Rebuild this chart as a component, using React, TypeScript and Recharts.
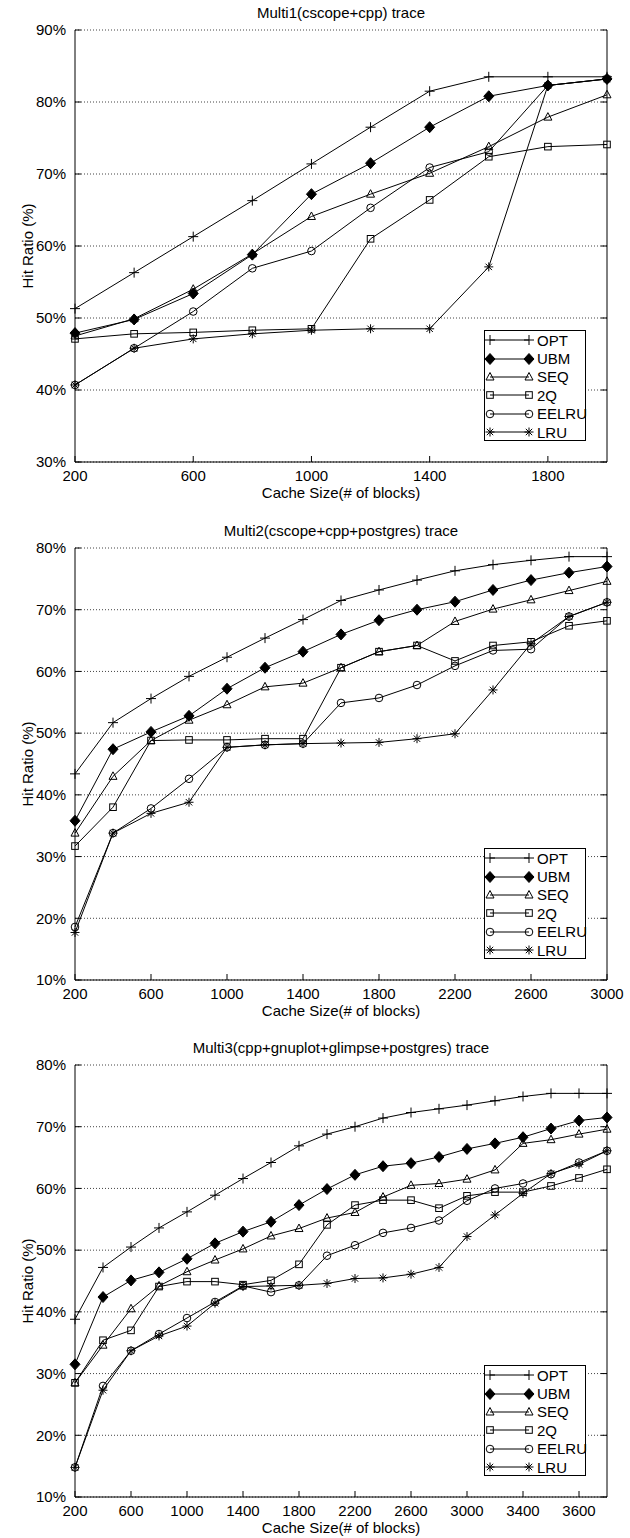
import React from 'react';
import { LineChart, Line, XAxis, YAxis, CartesianGrid, Legend } from 'recharts';

const FONT = "'Liberation Sans', Arial, Helvetica, sans-serif";
const W = 630;
const CH = 517;
const PLOT_TOP = 30;
const PLOT_BOTTOM = 462;

const seriesNames = ['OPT', 'UBM', 'SEQ', '2Q', 'EELRU', 'LRU'];
const markerKinds = ['plus', 'diamond', 'triangle', 'square', 'circle', 'star'];

// Multi1
const sizes1 = [200, 400, 600, 800, 1000, 1200, 1400, 1600, 1800, 2000];
const opt1 = [51.3, 56.3, 61.3, 66.3, 71.4, 76.5, 81.5, 83.5, 83.5, 83.5];
const ubm1 = [47.9, 49.8, 53.4, 58.8, 67.2, 71.5, 76.5, 80.8, 82.3, 83.2];
const seq1 = [47.5, 49.9, 54.0, 58.9, 64.1, 67.2, 70.1, 73.8, 77.9, 81.0];
const q2_1 = [47.1, 47.8, 48.0, 48.3, 48.5, 61.0, 66.4, 72.4, 73.8, 74.1];
const eelru1 = [40.7, 45.8, 50.9, 56.9, 59.3, 65.3, 70.9, 73.1, 82.3, 83.2];
const lru1 = [40.7, 45.8, 47.1, 47.8, 48.3, 48.5, 48.5, 57.1, 82.3, 83.2];

// Multi2
const sizes2 = [200, 400, 600, 800, 1000, 1200, 1400, 1600, 1800, 2000, 2200, 2400, 2600, 2800, 3000];
const opt2 = [43.4, 51.7, 55.6, 59.2, 62.3, 65.4, 68.4, 71.5, 73.2, 74.8, 76.3, 77.3, 78.0, 78.6, 78.6];
const ubm2 = [35.8, 47.4, 50.2, 52.8, 57.2, 60.6, 63.2, 66.0, 68.3, 70.0, 71.3, 73.2, 74.8, 76.0, 77.0];
const seq2 = [33.8, 43.0, 48.8, 52.1, 54.6, 57.5, 58.1, 60.6, 63.2, 64.2, 68.1, 70.1, 71.6, 73.1, 74.6];
const q2_2 = [31.7, 38.0, 48.8, 48.9, 48.9, 49.1, 49.1, 60.6, 63.2, 64.2, 61.7, 64.2, 64.8, 67.4, 68.2];
const eelru2 = [18.6, 33.8, 37.8, 42.6, 47.7, 48.1, 48.3, 54.9, 55.7, 57.8, 60.9, 63.4, 63.6, 68.9, 71.2];
const lru2 = [17.7, 33.8, 37.0, 38.8, 47.7, 48.1, 48.3, 48.4, 48.5, 49.1, 49.9, 57.0, 64.5, 68.9, 71.2];

// Multi3
const sizes3 = [200, 400, 600, 800, 1000, 1200, 1400, 1600, 1800, 2000, 2200, 2400, 2600, 2800, 3000, 3200, 3400, 3500, 3600, 3700];
const opt3 = [38.8, 47.2, 50.5, 53.6, 56.2, 58.9, 61.6, 64.2, 66.9, 68.8, 70.0, 71.4, 72.3, 72.9, 73.5, 74.2, 74.9, 75.4, 75.4, 75.4];
const ubm3 = [31.5, 42.4, 45.1, 46.4, 48.6, 51.1, 53.0, 54.6, 57.3, 59.9, 62.2, 63.6, 64.1, 65.1, 66.4, 67.3, 68.3, 69.7, 71.0, 71.5];
const seq3 = [28.5, 34.6, 40.5, 44.2, 46.5, 48.4, 50.2, 52.3, 53.5, 55.2, 56.1, 58.6, 60.5, 60.8, 61.5, 63.0, 67.3, 67.9, 68.8, 69.6];
const q2_3 = [28.5, 35.4, 37.0, 44.1, 44.9, 44.9, 44.4, 45.1, 47.7, 54.1, 57.3, 58.1, 58.1, 56.8, 58.8, 59.4, 59.4, 60.4, 61.7, 63.1];
const eelru3 = [14.8, 28.0, 33.7, 36.4, 39.0, 41.6, 44.2, 43.2, 44.3, 49.1, 50.8, 52.8, 53.6, 54.8, 58.0, 60.0, 60.8, 62.3, 64.2, 66.1];
const lru3 = [14.8, 27.3, 33.7, 36.1, 37.7, 41.4, 44.1, 44.2, 44.3, 44.6, 45.4, 45.5, 46.1, 47.2, 52.2, 55.7, 59.2, 62.4, 63.9, 66.1];

const yTicks1 = [30, 40, 50, 60, 70, 80, 90];
const yTicks23 = [10, 20, 30, 40, 50, 60, 70, 80];

function buildRows(sizes: number[], cols: number[][]) {
  return sizes.map((size, i) => {
    const row: any = { size };
    seriesNames.forEach((n, k) => {
      row[n] = cols[k][i];
    });
    return row;
  });
}

function Marker({ kind, cx, cy }: { kind: string; cx: number; cy: number }) {
  const s = { stroke: '#000', strokeWidth: 1, fill: 'none' };
  if (kind === 'plus') return <path d={`M${cx - 5},${cy}H${cx + 5}M${cx},${cy - 5}V${cy + 5}`} {...s} />;
  if (kind === 'diamond')
    return <path d={`M${cx},${cy - 5.5}L${cx + 5},${cy}L${cx},${cy + 5.5}L${cx - 5},${cy}Z`} fill="#000" stroke="#000" />;
  if (kind === 'triangle') return <path d={`M${cx},${cy - 4.5}L${cx + 4},${cy + 3}L${cx - 4},${cy + 3}Z`} {...s} />;
  if (kind === 'square') return <rect x={cx - 3.3} y={cy - 3.3} width={6.6} height={6.6} {...s} />;
  if (kind === 'circle') return <circle cx={cx} cy={cy} r={3.8} {...s} />;
  return (
    <path
      d={`M${cx - 4.5},${cy}H${cx + 4.5}M${cx},${cy - 4.5}V${cy + 4.5}M${cx - 3.2},${cy - 3.2}L${cx + 3.2},${cy + 3.2}M${cx - 3.2},${cy + 3.2}L${cx + 3.2},${cy - 3.2}`}
      {...s}
    />
  );
}

const BottomTick = (p: any) => (
  <g>
    <line x1={p.x} y1={p.y - 8} x2={p.x} y2={p.y - 14} stroke="#000" />
    <text x={p.x} y={p.y} dy="0.71em" textAnchor="middle" fontSize={15} fontFamily={FONT} fill="#000">
      {p.payload.value}
    </text>
  </g>
);

const TopTick = (p: any) => <line x1={p.x} y1={p.y} x2={p.x} y2={p.y + 6} stroke="#000" />;

const LeftTick = (p: any) => (
  <g>
    <line x1={p.x + 9} y1={p.y} x2={p.x + 15} y2={p.y} stroke="#000" />
    <text x={p.x} y={p.y} dy="0.355em" textAnchor="end" fontSize={15} fontFamily={FONT} fill="#000">
      {`${p.payload.value}%`}
    </text>
  </g>
);

const RightTick = (p: any) => <line x1={p.x} y1={p.y} x2={p.x - 6} y2={p.y} stroke="#000" />;

function LegendBox() {
  return (
    <div
      style={{
        width: 102,
        height: 111,
        boxSizing: 'border-box',
        border: '1px solid #000',
        background: '#fff',
        fontFamily: FONT,
        fontSize: 15,
        color: '#000',
      }}
    >
      {seriesNames.map((n, i) => (
        <div key={n} style={{ display: 'flex', alignItems: 'center', height: 18.4, whiteSpace: 'nowrap' }}>
          <svg width={51} height={18} style={{ flex: 'none' }}>
            <line x1={5} y1={9} x2={44} y2={9} stroke="#000" />
            <Marker kind={markerKinds[i]} cx={5} cy={9} />
            <Marker kind={markerKinds[i]} cx={44} cy={9} />
          </svg>
          <span style={{ marginLeft: 1 }}>{n}</span>
        </div>
      ))}
    </div>
  );
}

function TraceChart({ title, data, yDomain, yTicks, top }: any) {
  const textStyle: React.CSSProperties = {
    position: 'absolute',
    fontFamily: FONT,
    fontSize: 15,
    color: '#000',
    textAlign: 'center',
    height: 18,
    lineHeight: '18px',
    whiteSpace: 'nowrap',
  };
  return (
    <div style={{ position: 'absolute', left: 0, top, width: W, height: CH }}>
      <LineChart width={W} height={CH} data={data} margin={{ top: PLOT_TOP, right: 0, bottom: 0, left: 0 }}>
        <CartesianGrid vertical={false} stroke="#444" strokeDasharray="1 2" />
        <XAxis
          dataKey="size"
          type="category"
          scale="point"
          interval={1}
          height={CH - PLOT_BOTTOM}
          tickSize={0}
          tickMargin={8}
          tickLine={false}
          stroke="#000"
          tick={BottomTick}
        />
        <XAxis
          xAxisId="top"
          orientation="top"
          dataKey="size"
          type="category"
          scale="point"
          interval={1}
          height={0}
          tickSize={0}
          tickMargin={0}
          tickLine={false}
          stroke="#000"
          tick={TopTick}
        />
        <YAxis
          domain={yDomain}
          ticks={yTicks}
          width={75}
          tickSize={0}
          tickMargin={9}
          tickLine={false}
          stroke="#000"
          tick={LeftTick}
          allowDataOverflow
        />
        <YAxis
          yAxisId="r"
          orientation="right"
          domain={yDomain}
          ticks={yTicks}
          width={23}
          tickSize={0}
          tickMargin={0}
          tickLine={false}
          stroke="#000"
          tick={RightTick}
          allowDataOverflow
        />
        {seriesNames.map((n, i) => (
          <Line
            key={n}
            dataKey={n}
            name={n}
            stroke="#000"
            strokeWidth={1}
            isAnimationActive={false}
            activeDot={false}
            dot={(p: any) => <Marker key={`${n}-${p.index}`} kind={markerKinds[i]} cx={p.cx} cy={p.cy} />}
          />
        ))}
        <Legend
          layout="vertical"
          align="center"
          verticalAlign="middle"
          wrapperStyle={{ left: 484, top: PLOT_BOTTOM - 132, width: 102, height: 111 }}
          content={() => <LegendBox />}
        />
      </LineChart>
      <div style={{ ...textStyle, left: 75, width: 532, top: 4 }}>{title}</div>
      <div style={{ ...textStyle, left: 75, width: 532, top: 484 }}>Cache Size(# of blocks)</div>
      <div
        style={{
          ...textStyle,
          left: 28 - 60,
          width: 120,
          top: (PLOT_TOP + PLOT_BOTTOM) / 2 - 9,
          transform: 'rotate(-90deg)',
        }}
      >
        Hit Ratio (%)
      </div>
    </div>
  );
}

export default function App() {
  const data1 = buildRows(sizes1, [opt1, ubm1, seq1, q2_1, eelru1, lru1]);
  const data2 = buildRows(sizes2, [opt2, ubm2, seq2, q2_2, eelru2, lru2]);
  const data3 = buildRows(sizes3, [opt3, ubm3, seq3, q2_3, eelru3, lru3]);
  return (
    <div style={{ position: 'absolute', left: 0, top: 0, width: W, height: 1538, background: '#fff' }}>
      <TraceChart title="Multi1(cscope+cpp) trace" data={data1} yDomain={[30, 90]} yTicks={yTicks1} top={0} />
      <TraceChart
        title="Multi2(cscope+cpp+postgres) trace"
        data={data2}
        yDomain={[10, 80]}
        yTicks={yTicks23}
        top={518}
      />
      <TraceChart
        title="Multi3(cpp+gnuplot+glimpse+postgres) trace"
        data={data3}
        yDomain={[10, 80]}
        yTicks={yTicks23}
        top={1035}
      />
    </div>
  );
}
